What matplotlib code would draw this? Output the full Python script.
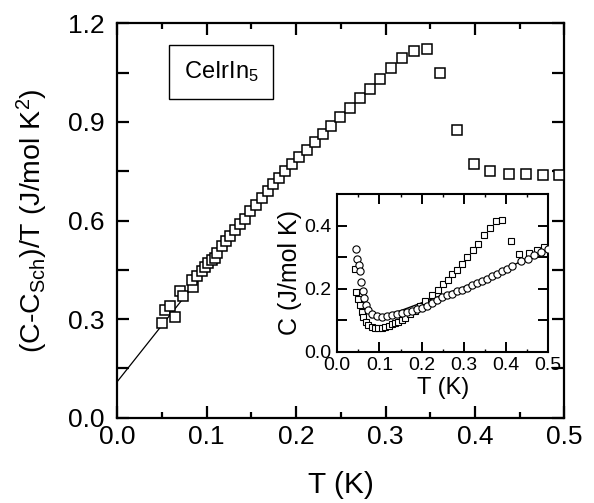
import matplotlib
matplotlib.use("Agg")
import matplotlib.pyplot as plt
from matplotlib.ticker import MultipleLocator, FuncFormatter

plt.rcParams['font.family'] = ['Liberation Sans', 'DejaVu Sans']
plt.rcParams['mathtext.default'] = 'regular'
plt.rcParams.update({
    'xtick.direction': 'in', 'ytick.direction': 'in',
    'xtick.top': True, 'ytick.right': True,
    'xtick.major.size': 8.5, 'xtick.minor.size': 4.5,
    'ytick.major.size': 8.5, 'ytick.minor.size': 8.5,
    'xtick.major.width': 1.6, 'xtick.minor.width': 1.6,
    'ytick.major.width': 1.6, 'ytick.minor.width': 1.6,
    'xtick.color': 'black', 'ytick.color': 'black',
})

# Main panel data: (C - C_Sch)/T vs T
T_main = [0.0497, 0.0534, 0.0645, 0.059, 0.070, 0.0738, 0.085, 0.083, 0.0888, 0.0944,
          0.098, 0.1018, 0.1056, 0.109, 0.111, 0.117, 0.1216, 0.126, 0.132, 0.137,
          0.143, 0.1484, 0.155, 0.1615, 0.168, 0.1745, 0.181, 0.1876, 0.195, 0.2036,
          0.212, 0.2215, 0.2297, 0.239, 0.249, 0.260, 0.2715, 0.283, 0.294, 0.3065,
          0.319, 0.332, 0.346, 0.361, 0.3796, 0.3987, 0.417, 0.438, 0.457, 0.476, 0.494]
Y_main = [0.288, 0.328, 0.306, 0.341, 0.384, 0.369, 0.399, 0.420, 0.430, 0.445,
          0.460, 0.471, 0.481, 0.486, 0.501, 0.521, 0.537, 0.554, 0.572, 0.590,
          0.605, 0.628, 0.648, 0.669, 0.689, 0.710, 0.730, 0.750, 0.773, 0.794,
          0.814, 0.838, 0.862, 0.887, 0.915, 0.943, 0.972, 1.001, 1.032, 1.063,
          1.094, 1.115, 1.123, 1.050, 0.874, 0.771, 0.752, 0.743, 0.7427, 0.740, 0.740]

# Linear fit line in main panel
fit_T = [0.0, 0.19]
fit_Y = [0.11, 0.762]

# Inset data: C vs T
T_circ = [0.0445, 0.0476, 0.051, 0.054, 0.057, 0.0605, 0.0636, 0.068, 0.074, 0.082,
          0.094, 0.1057, 0.1176, 0.1295, 0.1414, 0.1533, 0.165, 0.177, 0.189, 0.201,
          0.213, 0.2248, 0.2367, 0.2486, 0.2605, 0.2724, 0.2843, 0.2962, 0.308, 0.320,
          0.332, 0.3438, 0.3557, 0.3676, 0.3795, 0.391, 0.403, 0.415, 0.435, 0.451,
          0.4667, 0.4826, 0.4986]
C_circ = [0.3265, 0.295, 0.276, 0.256, 0.221, 0.193, 0.169, 0.147, 0.132, 0.121,
          0.113, 0.1086, 0.1127, 0.1159, 0.119, 0.123, 0.126, 0.1295, 0.134, 0.139,
          0.146, 0.155, 0.1655, 0.1737, 0.179, 0.1844, 0.1917, 0.197, 0.2033, 0.2106,
          0.218, 0.2242, 0.2318, 0.239, 0.2475, 0.256, 0.263, 0.272, 0.2864, 0.295,
          0.3075, 0.3158, 0.3265]

T_sq = [0.042, 0.0445, 0.05, 0.054, 0.058, 0.062, 0.068, 0.074, 0.082, 0.0898,
        0.0976, 0.1057, 0.1136, 0.1214, 0.1295, 0.1374, 0.145, 0.153, 0.161, 0.173,
        0.185, 0.197, 0.209, 0.2248, 0.238, 0.251, 0.262, 0.2724, 0.284, 0.296,
        0.308, 0.3214, 0.3333, 0.3476, 0.362, 0.3755, 0.391, 0.411, 0.431, 0.455,
        0.473, 0.4905]
C_sq = [0.263, 0.189, 0.1686, 0.147, 0.126, 0.1086, 0.0947, 0.0843, 0.077, 0.0739,
        0.0739, 0.0758, 0.079, 0.082, 0.0865, 0.0897, 0.0947, 0.100, 0.1055, 0.118,
        0.13, 0.145, 0.162, 0.181, 0.197, 0.2137, 0.2285, 0.245, 0.26, 0.279,
        0.300, 0.323, 0.340, 0.3685, 0.3915, 0.4137, 0.416, 0.3495, 0.3085, 0.3126,
        0.321, 0.3316]

line_T = [0.08, 0.1, 0.15, 0.2, 0.25, 0.3, 0.35, 0.4, 0.45, 0.5]
line_C = [0.108, 0.112, 0.13, 0.155, 0.18, 0.205, 0.232, 0.262, 0.297, 0.335]

fmt = FuncFormatter(lambda v, p: f"{v:.1f}")

fig = plt.figure(figsize=(5.94, 5.03), dpi=100)
ax = fig.add_axes([0.1975, 0.1696, 0.7525, 0.784])

ax.plot(fit_T, fit_Y, color='black', lw=0.9, zorder=2)
ax.plot(T_main, Y_main, ls='none', marker='s', ms=6.8, mfc='white', mec='black',
        mew=1.1, zorder=3)

ax.set_xlim(0, 0.5)
ax.set_ylim(0, 1.2)
ax.xaxis.set_major_locator(MultipleLocator(0.1))
ax.xaxis.set_minor_locator(MultipleLocator(0.05))
ax.yaxis.set_major_locator(MultipleLocator(0.3))
ax.yaxis.set_minor_locator(MultipleLocator(0.15))
ax.xaxis.set_major_formatter(fmt)
ax.yaxis.set_major_formatter(fmt)
ax.tick_params(axis='both', which='major', labelsize=19)
ax.tick_params(axis='x', which='major', pad=5)
ax.tick_params(axis='y', which='major', pad=9)
for s in ax.spines.values():
    s.set_linewidth(1.6)

ax.set_xlabel('T (K)', fontsize=21.5, labelpad=16)
ax.set_ylabel('(C-C$_{Sch}$)/T (J/mol K$^2$)', fontsize=20.5, labelpad=13)

ax.text(0.232, 0.8765, 'CeIrIn$_5$', transform=ax.transAxes, fontsize=17,
        ha='center', va='center',
        bbox=dict(boxstyle='square,pad=0.6', fc='white', ec='black', lw=1.0))

# Inset
ins = fig.add_axes([0.5678, 0.3008, 0.3552, 0.3135])
ins.plot(line_T, line_C, color='black', lw=1.0, zorder=2)
ins.plot(T_sq, C_sq, ls='none', marker='s', ms=4.6, mfc='white', mec='black',
         mew=0.8, zorder=3)
ins.plot(T_circ, C_circ, ls='none', marker='o', ms=5.2, mfc='white', mec='black',
         mew=0.8, zorder=4)
ins.set_xlim(0, 0.5)
ins.set_ylim(0, 0.5)
ins.xaxis.set_major_locator(MultipleLocator(0.1))
ins.xaxis.set_minor_locator(MultipleLocator(0.05))
ins.yaxis.set_major_locator(MultipleLocator(0.2))
ins.yaxis.set_minor_locator(MultipleLocator(0.1))
ins.xaxis.set_major_formatter(fmt)
ins.yaxis.set_major_formatter(fmt)
ins.tick_params(axis='both', which='major', labelsize=14, length=7, width=1.4, pad=4)
ins.tick_params(axis='x', which='minor', length=2.5, width=1.0)
ins.tick_params(axis='y', which='minor', length=7, width=1.4)
for s in ins.spines.values():
    s.set_linewidth(1.5)
ins.set_xlabel('T (K)', fontsize=17, labelpad=2)
ins.set_ylabel('C (J/mol K)', fontsize=18, labelpad=2)

fig.savefig('out.png', dpi=100)
